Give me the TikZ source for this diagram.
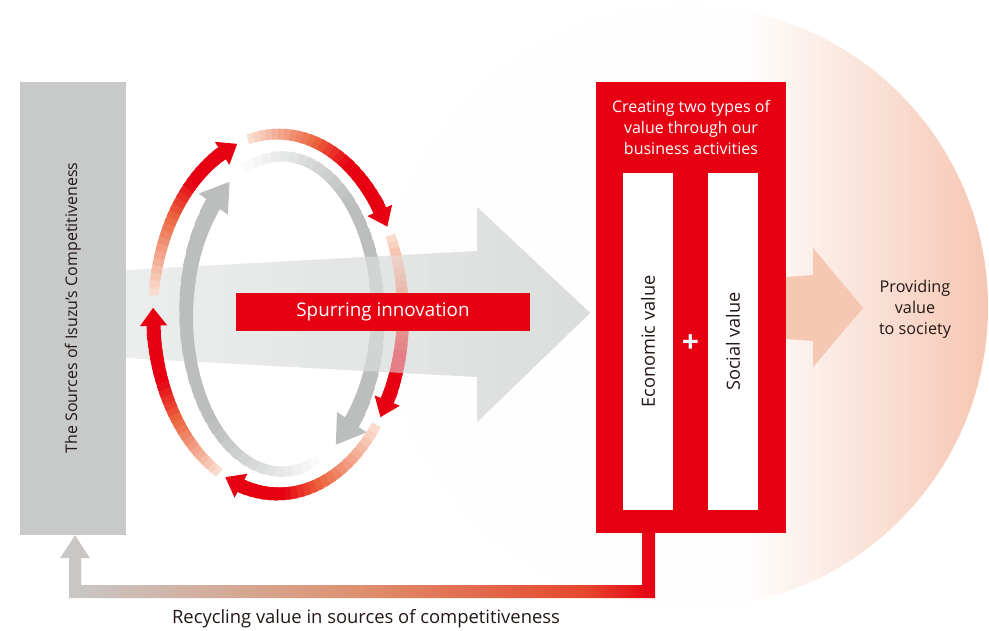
\documentclass[tikz,border=0pt]{standalone}
\usepackage{fontspec}
\setmainfont{Open Sans}
\usetikzlibrary{arrows.meta,calc}

\definecolor{isured}{RGB}{230,0,18}
\definecolor{isugray}{RGB}{200,201,201}
\definecolor{ringgray}{RGB}{188,189,189}
\definecolor{bandlight}{RGB}{236,237,237}
\definecolor{banddark}{RGB}{219,220,220}
\definecolor{bandmid}{RGB}{229,230,230}
\definecolor{isupeach}{RGB}{246,200,180}
\definecolor{isupale}{RGB}{249,220,206}
\definecolor{isuorange}{RGB}{236,100,62}
\definecolor{circwhite}{RGB}{254,254,254}
\definecolor{circpeach}{RGB}{246,198,178}
\definecolor{textdark}{RGB}{35,24,21}
\definecolor{recymid}{RGB}{222,145,112}
\definecolor{recyor}{RGB}{229,72,45}

\pgfdeclarehorizontalshading{recycle}{100bp}{color(0bp)=(isugray); color(25bp)=(isugray); color(50bp)=(recymid); color(69bp)=(recyor); color(75bp)=(isured); color(100bp)=(isured)}

\tikzset{
  srcbar/.style={fill=isugray, minimum width=106pt, minimum height=453pt, inner sep=0pt},
  valuebox/.style={fill=isured, minimum width=190pt, minimum height=451pt, inner sep=0pt},
  panel/.style={fill=white, minimum width=50pt, minimum height=337pt, inner sep=0pt},
  redtip/.style={-{Triangle[width=26pt,length=18pt]}, isured, line width=14pt},
  graytip/.style={-{Triangle[width=34pt,length=28pt]}, ringgray, line width=17pt},
}

% red ring: centre (278,314), radii 125 and 180
\newcommand{\redarc}[2]{%
  \pgfmathsetmacro\rhead{#2-8}
  \foreach \k in {0,...,23}{
    \pgfmathsetmacro\ff{\k/24}
    \pgfmathsetmacro\angA{#1+(\rhead-#1)*\k/24}
    \pgfmathsetmacro\angB{#1+(\rhead-#1)*min(\k+1.7,24)/24}
    \pgfmathsetmacro\mixA{min(100,100*\ff/0.45)}
    \pgfmathsetmacro\mixB{100-max(0,min(100,100*(\ff-0.45)/0.25))}
    \draw[line width={10+4*\ff}, isuorange!\mixA!isupale!\mixB!isured]
      ({278+125*cos(\angA)},{314+180*sin(\angA)}) -- ({278+125*cos(\angB)},{314+180*sin(\angB)});
  }
  \draw[redtip] ({278+125*cos(\rhead-1)},{314+180*sin(\rhead-1)}) -- ({278+125*cos(#2)},{314+180*sin(#2)});
}
% gray ring: centre (282,314), radii 96 and 158
\newcommand{\grayarc}[2]{%
  \pgfmathsetmacro\ghead{#2-13}
  \foreach \k in {0,...,29}{
    \pgfmathsetmacro\ff{\k/30}
    \pgfmathsetmacro\angA{#1+(\ghead-#1)*\k/30}
    \pgfmathsetmacro\angB{#1+(\ghead-#1)*min(\k+1.7,30)/30}
    \pgfmathsetmacro\mixA{min(100,100*\ff/0.45)}
    \draw[line width={10+7*\ff*\ff}, ringgray!\mixA!white]
      ({282+96*cos(\angA)},{314+158*sin(\angA)}) -- ({282+96*cos(\angB)},{314+158*sin(\angB)});
  }
  \draw[graytip] ({282+96*cos(\ghead-1)},{314+158*sin(\ghead-1)}) -- ({282+96*cos(#2)},{314+158*sin(#2)});
}

\begin{document}
\begin{tikzpicture}[x=1pt,y=-1pt]
\useasboundingbox (0,0) rectangle (989,630);
% background disc
\begin{scope}
\clip (686,307) circle (302pt);
\fill[circwhite] (380,0) rectangle (745,630);
\shade[left color=circwhite, right color=circpeach] (745,0) rectangle (991,630);
\end{scope}

\node[srcbar] (src) at (73,308) {};
\node[rotate=90, text=textdark, font=\fontsize{16}{18}\selectfont] (srctext) at (src.center) {The Sources of Isuzu’s Competitiveness};

\node[valuebox] (value) at (691,307.5) {};
\node[align=center, text=white, font=\fontsize{16}{21}\selectfont] (title) at (691,127) {Creating two types of\\value through our\\business activities};
\node[panel] (eco) at (648,341.5) {};
\node[panel] (soc) at (733,341.5) {};
\node[rotate=90, text=textdark, font=\fontsize{18.2}{20}\selectfont] (ecotext) at (eco) {Economic value};
\node[rotate=90, text=textdark, font=\fontsize{18.2}{20}\selectfont] (soctext) at (soc) {Social value};
\node[text=white, font=\fontsize{30}{30}\selectfont\bfseries] (plus) at (690.5,344) {+};

% big arrow: sources -> value
\shade[left color=bandlight, right color=banddark, shift={(src.east)}]
  (0,-38) -- (351,-57) -- (351,-101) -- (464,5) -- (351,114) -- (351,69) -- (0,50) -- cycle;
% arrow to society
\fill[isupeach, shift={(value.east)}]
  (0,-30.5) -- (27,-32.5) -- (27,-59.5) -- (77,0.5) -- (27,59.5) -- (27,33.5) -- (0,31.5) -- cycle;

% rings
\grayarc{62}{237}
\grayarc{-118}{56}
\redarc{-174}{-109}
\redarc{-104}{-29}
\redarc{-26}{35}
\redarc{38}{115}
\redarc{118}{182}
\fill[bandmid, fill opacity=0.55] (300,260.6) -- (430,253.5) -- (430,374.5) -- (300,367.4) -- cycle;

\node[fill=isured, text=white, minimum width=294pt, minimum height=38pt, inner sep=0pt,
  font=\fontsize{18.8}{20}\selectfont] (spur) at (383,312) {Spurring innovation};

% recycling arrow: value -> sources
\shade[shading=recycle, shift={(value.south)}]
  (-49,0) -- (-49,52) -- (-610,52) -- (-610,25) -- (-601,25) -- (-616,2) -- (-631,25)
  -- (-622,25) -- (-622,65) -- (-36,65) -- (-36,0) -- cycle;

\node[align=center, text=textdark, font=\fontsize{16.2}{21}\selectfont] (society) at (915,309) {Providing\\value\\to society};
\node[text=textdark, font=\fontsize{18.4}{20}\selectfont] (recycle) at (366,619) {Recycling value in sources of competitiveness};
\end{tikzpicture}
\end{document}
